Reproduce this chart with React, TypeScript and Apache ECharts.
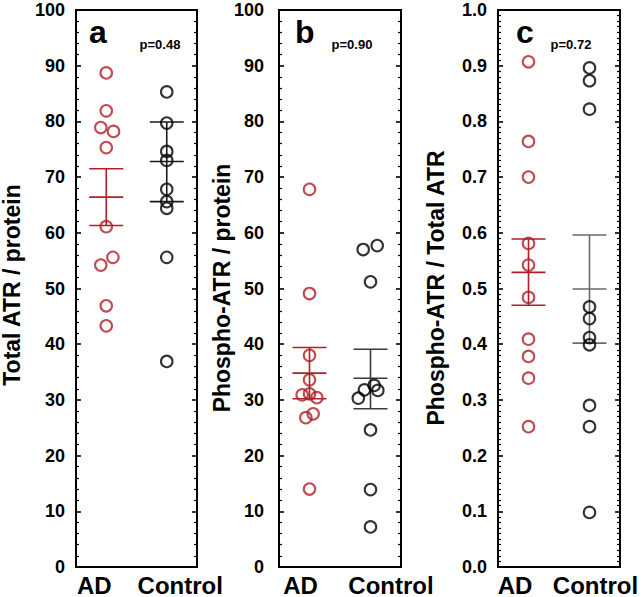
import React, { useEffect, useRef } from "react";
import * as echarts from "echarts";

// ---------- data ----------
const categories = ["AD", "Control"];

// panel a: Total ATR / protein
const adTotal = [88.7, 81.9, 78.9, 78.2, 75.3, 61.1, 55.6, 54.2, 46.9, 43.3];
const adTotalJitter = [0, 0, -0.09, 0.12, 0, 0, 0.11, -0.09, 0, 0];
const ctlTotal = [85.3, 79.7, 74.6, 73.0, 67.8, 65.6, 64.4, 55.6, 36.9];
const ctlTotalJitter = [0, 0, 0, 0, 0, 0, 0, 0, 0];
const totalLower = [61.3, 65.6];
const totalMean = [66.4, 72.8];
const totalUpper = [71.5, 79.9];

// panel b: Phospho-ATR / protein
const adPhospho = [67.8, 49.1, 38.0, 33.6, 30.9, 31.1, 30.4, 27.5, 26.8, 14.0];
const adPhosphoJitter = [0, 0, 0, 0, -0.12, 0, 0.12, 0.06, -0.06, 0];
const ctlPhospho = [57.7, 57.0, 51.2, 32.6, 31.8, 31.7, 30.3, 24.6, 13.9, 7.2];
const ctlPhosphoJitter = [0.11, -0.12, 0, 0.06, -0.1, 0.12, -0.2, 0, 0, 0];
const phosphoLower = [30.2, 28.4];
const phosphoMean = [34.8, 33.9];
const phosphoUpper = [39.4, 39.1];

// panel c: Phospho-ATR / Total ATR
const adRatio = [0.907, 0.764, 0.7, 0.581, 0.542, 0.484, 0.409, 0.378, 0.339, 0.252];
const adRatioJitter = [0, 0, 0, 0, 0, 0, 0, 0, 0, 0];
const ctlRatio = [0.896, 0.873, 0.822, 0.467, 0.446, 0.412, 0.399, 0.29, 0.252, 0.098];
const ctlRatioJitter = [0, 0, 0, 0, 0, 0, 0, 0, 0, 0];
const ratioLower = [0.47, 0.402];
const ratioMean = [0.529, 0.499];
const ratioUpper = [0.589, 0.596];

const panelLetters = ["a", "b", "c"];
const pValues = ["p=0.48", "p=0.90", "p=0.72"];
const yTitles = ["Total ATR / protein", "Phospho-ATR / protein", "Phospho-ATR / Total ATR"];
const yMax = [100, 100, 1.0];
const yInterval = [10, 10, 0.1];
const yMinorSplit = [5, 5, 10];

// ---------- styling ----------
const RED = "#ae1f26";
const BLACK = "#000000";
const ctlBarColors = ["#1a1a1a", "#3a3a3a", "#6a6a6a"];
const FONT = "'Liberation Sans', Arial, Helvetica, sans-serif";

const gridLeft = [76, 279, 498];
const gridWidth = [121, 122, 122];
const labelMargin = [11, 15, 11];
const adPad = [24, 18, 27];
const ctlPad = [27, 41, 12];

const panels = [
  { ad: adTotal, adJ: adTotalJitter, ctl: ctlTotal, ctlJ: ctlTotalJitter, lo: totalLower, mid: totalMean, hi: totalUpper },
  { ad: adPhospho, adJ: adPhosphoJitter, ctl: ctlPhospho, ctlJ: ctlPhosphoJitter, lo: phosphoLower, mid: phosphoMean, hi: phosphoUpper },
  { ad: adRatio, adJ: adRatioJitter, ctl: ctlRatio, ctlJ: ctlRatioJitter, lo: ratioLower, mid: ratioMean, hi: ratioUpper },
];

function buildOption() {
  const grid: any[] = [];
  const xAxis: any[] = [];
  const yAxis: any[] = [];
  const series: any[] = [];
  const graphic: any[] = [];

  panels.forEach((p, i) => {
    grid.push({
      left: gridLeft[i],
      top: 10,
      width: gridWidth[i],
      height: 557,
      show: true,
      borderColor: "#000",
      borderWidth: 2,
      backgroundColor: "transparent",
    });
    xAxis.push({
      type: "value",
      gridIndex: i,
      min: 0,
      max: 2,
      interval: 0.5,
      axisLine: { show: false },
      axisTick: { show: false },
      splitLine: { show: false },
      axisLabel: {
        margin: 6,
        formatter: (v: number) =>
          v === 0.5 ? "{ad|" + categories[0] + "}" : v === 1.5 ? "{ctl|" + categories[1] + "}" : "",
        rich: {
          ad: { fontFamily: FONT, fontWeight: "bold", fontSize: 24, color: "#000", padding: [0, adPad[i], 0, 0] },
          ctl: { fontFamily: FONT, fontWeight: "bold", fontSize: 24, color: "#000", padding: [0, 0, 0, ctlPad[i]] },
        },
      },
    });
    const common = {
      type: "value",
      gridIndex: i,
      min: 0,
      max: yMax[i],
      interval: yInterval[i],
      axisLine: { show: false },
      splitLine: { show: false },
      axisTick: { show: true, inside: true, length: 5, lineStyle: { color: "#000", width: 1.6 } },
      minorTick: { show: true, splitNumber: yMinorSplit[i], length: 3, lineStyle: { color: "#000", width: 1.2 } },
      minorSplitLine: { show: false },
    };
    yAxis.push({
      ...common,
      position: "left",
      axisLabel: {
        margin: labelMargin[i],
        fontFamily: FONT,
        fontWeight: "bold",
        fontSize: 18,
        color: "#000",
        formatter: (v: number) => (yMax[i] === 1 ? v.toFixed(1) : String(v)),
      },
    });
    yAxis.push({ ...common, position: "right", axisLabel: { show: false } });

    const yIdx = i * 2;
    series.push({
      type: "scatter",
      xAxisIndex: i,
      yAxisIndex: yIdx,
      symbol: "circle",
      symbolSize: 11.5,
      itemStyle: { color: "rgba(0,0,0,0)", borderColor: RED, borderWidth: 2.1 },
      data: p.ad.map((v, k) => [0.5 + p.adJ[k], v]),
      z: 3,
    });
    series.push({
      type: "scatter",
      xAxisIndex: i,
      yAxisIndex: yIdx,
      symbol: "circle",
      symbolSize: 11.5,
      itemStyle: { color: "rgba(0,0,0,0)", borderColor: BLACK, borderWidth: 2.1 },
      data: p.ctl.map((v, k) => [1.5 + p.ctlJ[k], v]),
      z: 3,
    });
    series.push({
      type: "custom",
      xAxisIndex: i,
      yAxisIndex: yIdx,
      encode: { x: 0, y: [1, 2, 3] },
      data: categories.map((c, k) => ({
        value: [k + 0.5, p.lo[k], p.mid[k], p.hi[k]],
        itemStyle: { color: k === 0 ? RED : ctlBarColors[i] },
      })),
      renderItem: (params: any, api: any) => {
        const x = api.value(0);
        const a = api.coord([x, api.value(1)]);
        const m = api.coord([x, api.value(2)]);
        const b = api.coord([x, api.value(3)]);
        const w = 17;
        const style = { stroke: api.visual("color"), lineWidth: 1.6 };
        return {
          type: "group",
          children: [
            { type: "line", shape: { x1: a[0], y1: a[1], x2: b[0], y2: b[1] }, style },
            { type: "line", shape: { x1: a[0] - w, y1: a[1], x2: a[0] + w, y2: a[1] }, style },
            { type: "line", shape: { x1: m[0] - w, y1: m[1], x2: m[0] + w, y2: m[1] }, style },
            { type: "line", shape: { x1: b[0] - w, y1: b[1], x2: b[0] + w, y2: b[1] }, style },
          ],
        };
      },
      z: 2,
    });
  });

  const letterX = [89, 295, 516];
  const pX = [160, 352, 571];
  const titleX = [12, 222, 436];
  const titleY = [285, 288, 288];
  for (let i = 0; i < 3; i++) {
    graphic.push({
      type: "text",
      x: letterX[i],
      y: 32,
      style: { text: panelLetters[i], font: `bold 32px ${FONT}`, fill: "#000", textAlign: "left", textVerticalAlign: "middle" },
    });
    graphic.push({
      type: "text",
      x: pX[i],
      y: 44,
      style: { text: pValues[i], font: `bold 13px ${FONT}`, fill: "#000", textAlign: "center", textVerticalAlign: "middle" },
    });
    graphic.push({
      type: "text",
      x: titleX[i],
      y: titleY[i],
      rotation: Math.PI / 2,
      style: { text: yTitles[i], font: `bold 23px ${FONT}`, fill: "#000", textAlign: "center", textVerticalAlign: "middle" },
    });
  }

  return { animation: false, backgroundColor: "#fff", grid, xAxis, yAxis, series, graphic };
}

export default function App() {
  const ref = useRef<HTMLDivElement>(null);
  useEffect(() => {
    if (!ref.current) return;
    const chart = echarts.init(ref.current, undefined, { renderer: "svg" });
    chart.setOption(buildOption() as any);
    return () => chart.dispose();
  }, []);
  return <div ref={ref} style={{ position: "absolute", left: 0, top: 0, width: 644, height: 597 }} />;
}
